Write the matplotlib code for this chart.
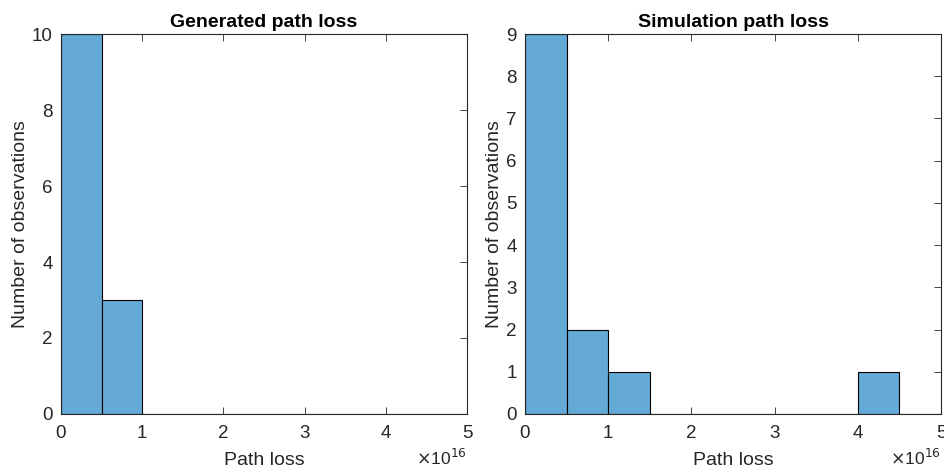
import numpy as np
import matplotlib.pyplot as plt

plt.rcParams['font.family'] = ['Liberation Sans', 'DejaVu Sans']

# bin edges (path loss) and histogram counts
bin_edges = np.arange(0, 5.5e16, 0.5e16)
gen_counts = [10, 3, 0, 0, 0, 0, 0, 0, 0, 0]
sim_counts = [9, 2, 1, 0, 0, 0, 0, 0, 1, 0]
xticks = [0, 1e16, 2e16, 3e16, 4e16, 5e16]
xticklabels = ['0', '1', '2', '3', '4', '5']

bar_color = '#65AAD7'
txt_color = '#262626'

fig = plt.figure(figsize=(9.45, 4.7), dpi=100)
ax1 = fig.add_axes([61/945, 1 - 414/470, 406/945, 380/470])
ax2 = fig.add_axes([525/945, 1 - 414/470, 416/945, 380/470])

for ax, counts, title, ymax in [(ax1, gen_counts, 'Generated path loss', 10),
                                (ax2, sim_counts, 'Simulation path loss', 9)]:
    ax.bar(bin_edges[:-1], counts, width=np.diff(bin_edges), align='edge',
           color=bar_color, edgecolor='black', linewidth=0.8, zorder=2)
    ax.set_xlim(0, 5e16)
    ax.set_ylim(0, ymax)
    ax.set_xticks(xticks)
    ax.set_xticklabels(xticklabels)
    if ymax == 10:
        ax.set_yticks([0, 2, 4, 6, 8, 10])
    else:
        ax.set_yticks(range(0, 10))
    ax.tick_params(direction='in', top=True, right=True, labelsize=13.5,
                   colors=txt_color, length=5, width=0.6, pad=6)
    ax.tick_params(axis='x', pad=8)
    for s in ax.spines.values():
        s.set_linewidth(0.8)
        s.set_color(txt_color)
    ax.set_title(title, fontsize=14, fontweight='bold', pad=5)
    ax.set_xlabel('Path loss', fontsize=14, color=txt_color, labelpad=7)
    ax.set_ylabel('Number of observations', fontsize=14, color=txt_color, labelpad=2)
    ax.text(1.0, -0.088, r'$\times$10$^{16}$', transform=ax.transAxes,
            ha='right', va='top', fontsize=12.5, color=txt_color)

fig.savefig('out.png', dpi=100)
